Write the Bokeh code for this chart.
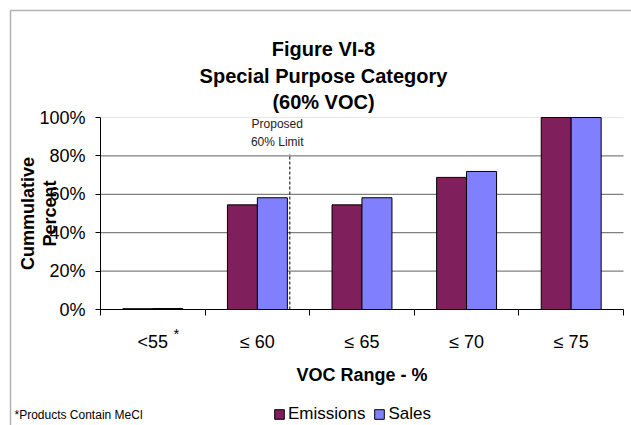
from bokeh.plotting import figure
from bokeh.models import (Range1d, FixedTicker, PrintfTickFormatter, Label, LinearAxis,
                          Legend, LegendItem, BoxAnnotation)
from bokeh.transform import dodge
from bokeh.embed import file_html
from bokeh.resources import INLINE
import numpy as np

categories = ["<55", "\u2264 60", "\u2264 65", "\u2264 70", "\u2264 75"]
emissions = [0.4, 54.5, 54.5, 68.8, 100.0]
sales = [0.5, 58.2, 58.2, 71.9, 100.0]
y_ticks = [0, 20, 40, 60, 80, 100]
limit_x = 1.81      # position of the "Proposed 60% Limit" marker (in category units)
limit_top = 81

FONT = "Liberation Sans"
W, H = 631, 425
# plot-area placement on the canvas (pixels)
PL, PR, PT, PB = 100, 623, 117, 309
n = len(categories)
xpx = (PR - PL) / n
ypx = (PB - PT) / 100.0

xc = np.arange(n) + 0.5
src = dict(x=xc, emissions=emissions, sales=sales)

p = figure(width=W, height=H, output_backend="svg", toolbar_location=None,
           x_axis_location=None, y_axis_location=None,
           x_range=Range1d(-PL / xpx, n + (W - PR) / xpx),
           y_range=Range1d(-(H - PB) / ypx, 100 + PT / ypx),
           min_border=0)
p.title = None
p.outline_line_color = None
p.background_fill_color = "white"
p.border_fill_color = "white"
p.xgrid.visible = False
p.ygrid.visible = False

# grid lines
grid_y = y_ticks[1:-1]
p.segment(x0=[0] * len(grid_y), x1=[n] * len(grid_y), y0=grid_y, y1=grid_y,
          line_color="#808080", line_width=1.3)
p.segment(x0=[0], x1=[n], y0=[100], y1=[100], line_color="#e6e6e6", line_width=1)

er = p.vbar(x=dodge("x", -0.143, range=p.x_range), top="emissions", width=0.287, source=src,
            fill_color="#7F1F5C", line_color="black", line_width=1)
sr = p.vbar(x=dodge("x", 0.143, range=p.x_range), top="sales", width=0.287, source=src,
            fill_color="#8080FF", line_color="black", line_width=1)

# x axis
xaxis = LinearAxis(fixed_location=0, bounds=(0, n))
xaxis.ticker = FixedTicker(ticks=list(xc), minor_ticks=list(range(n + 1)))
xaxis.major_label_overrides = {float(v): c for v, c in zip(xc, categories)}
xaxis.major_tick_line_color = None
xaxis.major_tick_out = 0
xaxis.major_tick_in = 0
xaxis.minor_tick_out = 6
xaxis.minor_tick_in = 0
xaxis.minor_tick_line_color = "black"
xaxis.axis_line_color = "black"
xaxis.major_label_text_font = FONT
xaxis.major_label_text_font_size = "18px"
xaxis.major_label_text_color = "black"
xaxis.major_label_standoff = 16
xaxis.axis_label = "VOC Range - %"
xaxis.axis_label_text_font = FONT
xaxis.axis_label_text_font_size = "18px"
xaxis.axis_label_text_font_style = "bold"
xaxis.axis_label_text_color = "black"
xaxis.axis_label_standoff = 10
p.add_layout(xaxis, "below")

# y axis
yaxis = LinearAxis(fixed_location=0, bounds=(0, 100))
yaxis.ticker = FixedTicker(ticks=y_ticks)
yaxis.formatter = PrintfTickFormatter(format="%d%%")
yaxis.minor_tick_line_color = None
yaxis.major_tick_out = 5
yaxis.major_tick_in = 0
yaxis.major_tick_line_color = "black"
yaxis.axis_line_color = "black"
yaxis.major_label_text_font = FONT
yaxis.major_label_text_font_size = "18px"
yaxis.major_label_text_color = "black"
yaxis.major_label_standoff = 10
p.add_layout(yaxis, "left")

# limit marker
p.segment(x0=[limit_x], y0=[0], x1=[limit_x], y1=[limit_top], line_color="black",
          line_dash="3 2", line_width=1)
p.add_layout(Label(x=1.69, y=96.4, text="Proposed", text_align="center", text_baseline="middle",
                   text_font=FONT, text_font_size="12px", text_color="#222222"))
p.add_layout(Label(x=1.69, y=87.0, text="60% Limit", text_align="center", text_baseline="middle",
                   text_font=FONT, text_font_size="12px", text_color="#222222"))

# title
for txt, yy in [("Figure VI-8", 48), ("Special Purpose Category", 75), ("(60% VOC)", 101)]:
    p.add_layout(Label(x=323, y=yy, x_units="canvas", y_units="canvas", text=txt,
                       text_align="center", text_baseline="middle", text_font=FONT,
                       text_font_size="20px", text_font_style="bold", text_color="black"))

# y axis title: two rotated lines
for txt, xx in [("Cummulative", 27), ("Percent", 49)]:
    p.add_layout(Label(x=xx, y=213, x_units="canvas", y_units="canvas", text=txt,
                       angle=np.pi / 2, text_align="center", text_baseline="middle",
                       text_font=FONT, text_font_size="18px", text_font_style="bold",
                       text_color="black"))

# asterisk on first category and footnote
p.add_layout(Label(x=176, y=333, x_units="canvas", y_units="canvas", text="*",
                   text_align="center", text_baseline="middle", text_font=FONT,
                   text_font_size="15px", text_color="black"))
p.add_layout(Label(x=14, y=414, x_units="canvas", y_units="canvas", text="*Products Contain MeCl",
                   text_align="left", text_baseline="middle", text_font=FONT,
                   text_font_size="12px", text_color="black"))

# chart border
p.add_layout(BoxAnnotation(left=10, top=10, right=W + 40, bottom=H + 40, left_units="canvas",
                           top_units="canvas", right_units="canvas", bottom_units="canvas",
                           fill_color=None, line_color="black", line_width=1.5))

legend = Legend(items=[LegendItem(label="Emissions", renderers=[er]),
                       LegendItem(label="Sales", renderers=[sr])],
                orientation="horizontal", location=(273, 1),
                label_text_font=FONT, label_text_font_size="17px", label_text_color="black",
                glyph_width=12, glyph_height=12, label_standoff=3, spacing=8,
                padding=0, margin=0, border_line_color=None, background_fill_alpha=0,
                label_height=20)
p.add_layout(legend)

open("out.html", "w").write(file_html(p, INLINE))
